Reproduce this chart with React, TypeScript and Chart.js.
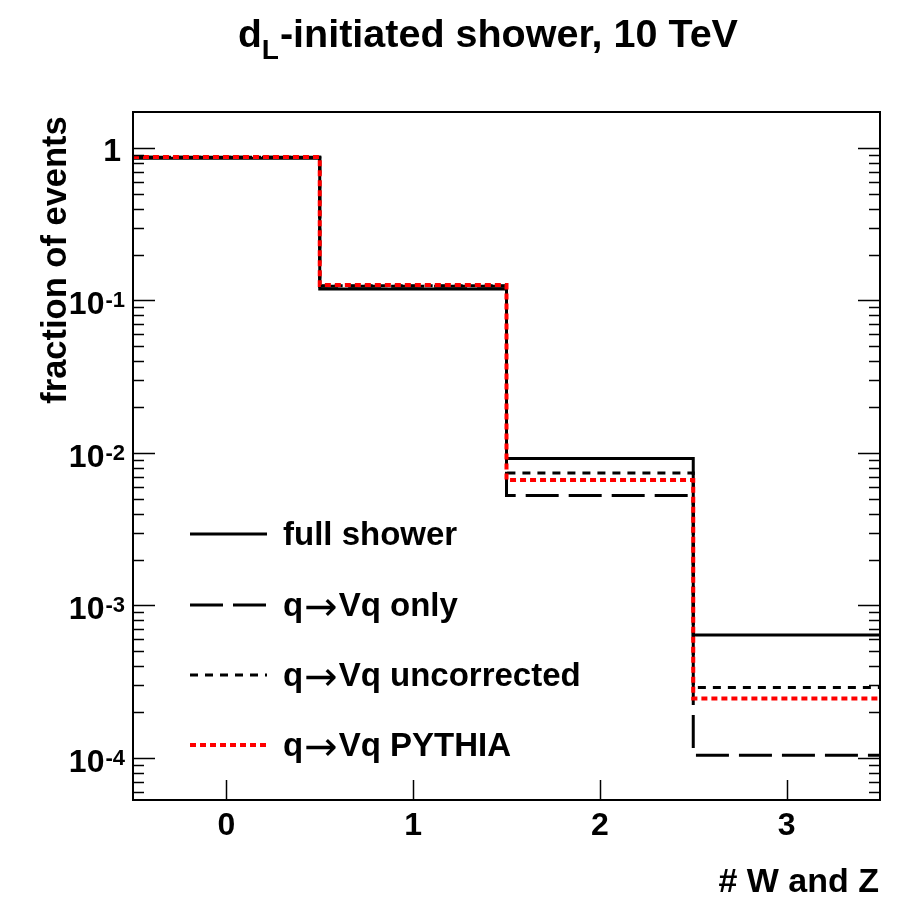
import React, { useEffect, useRef } from "react";
import { Chart, registerables } from "chart.js";

Chart.register(...registerables);

// Number of W and Z bosons per event (bin centres) and the bin edges of the histogram
const categories = [0, 1, 2, 3];
const binEdges = [-0.5, 0.5, 1.5, 2.5, 3.5];

// Fraction of events per bin, one array per shower variant
const fullShower = [0.856, 0.119, 0.0092, 0.00064];
const vqOnly = [0.868, 0.124, 0.00525, 0.000104];
const vqUncorrected = [0.868, 0.125, 0.0074, 0.00029];
const vqPythia = [0.872, 0.126, 0.00665, 0.000245];

const seriesLabels = ["full shower", "q\u2192Vq only", "q\u2192Vq uncorrected", "q\u2192Vq PYTHIA"];

// Axis ranges
const xRange = [-0.5, 3.5];
const yRange = [5.3e-5, 1.72];
const yDecades = [0, -1, -2, -3, -4];

const FONT = '"Liberation Sans", Arial, Helvetica, sans-serif';
const SYMBOL_FONT = '"DejaVu Sans", sans-serif';
const ARROW = "\u2192";

// Turn per-bin values into step points (left edge of each bin + closing right edge)
function toSteps(values: number[]) {
  const pts = values.map((v, i) => ({ x: binEdges[i], y: v }));
  pts.push({ x: binEdges[binEdges.length - 1], y: values[values.length - 1] });
  return pts;
}

const styles = [
  { color: "#000000", width: 3, dash: [] as number[] },
  { color: "#000000", width: 3, dash: [33, 10] },
  { color: "#000000", width: 3, dash: [8, 7] },
  { color: "#ff0000", width: 4, dash: [6, 4] },
];

// Draw a legend label, switching to a symbol font for the arrow glyph
function drawLabel(ctx: CanvasRenderingContext2D, text: string, x: number, baseline: number) {
  const parts = text.split(ARROW);
  let cx = x;
  parts.forEach((part, i) => {
    if (i > 0) {
      ctx.font = `40px ${SYMBOL_FONT}`;
      ctx.fillText(ARROW, cx + 1, baseline + 4);
      cx += ctx.measureText(ARROW).width + 2;
    }
    ctx.font = `bold 33px ${FONT}`;
    ctx.fillText(part, cx, baseline);
    cx += ctx.measureText(part).width;
  });
}

const rootStylePlugin = {
  id: "rootStyle",
  afterDatasetsDraw(chart: any) {
    const ctx: CanvasRenderingContext2D = chart.ctx;
    const area = chart.chartArea;
    const xs = chart.scales.x;
    const ys = chart.scales.y;
    ctx.save();

    // frame
    ctx.strokeStyle = "#000";
    ctx.lineWidth = 2;
    ctx.setLineDash([]);
    ctx.strokeRect(area.left, area.top, area.right - area.left, area.bottom - area.top);

    // y ticks (major at decades, minor at 2..9), on both sides
    ctx.lineWidth = 1.5;
    for (let k = -5; k <= 0; k++) {
      for (let m = 1; m <= 9; m++) {
        const v = m * Math.pow(10, k);
        if (v < yRange[0] || v > yRange[1]) continue;
        const y = Math.round(ys.getPixelForValue(v)) + 0.5;
        const len = m === 1 ? 22 : 11;
        ctx.beginPath();
        ctx.moveTo(area.left, y);
        ctx.lineTo(area.left + len, y);
        ctx.moveTo(area.right, y);
        ctx.lineTo(area.right - len, y);
        ctx.stroke();
      }
    }

    // x ticks
    categories.forEach((c) => {
      const x = Math.round(xs.getPixelForValue(c)) + 0.5;
      ctx.beginPath();
      ctx.moveTo(x, area.bottom);
      ctx.lineTo(x, area.bottom - 20);
      ctx.stroke();
    });

    ctx.fillStyle = "#000";

    // x tick labels
    ctx.font = `bold 32px ${FONT}`;
    ctx.textAlign = "center";
    ctx.textBaseline = "alphabetic";
    categories.forEach((c) => {
      ctx.fillText(String(c), xs.getPixelForValue(c), area.bottom + 35);
    });

    // y tick labels: 1, 10^-1, ...
    yDecades.forEach((k) => {
      const y = ys.getPixelForValue(Math.pow(10, k));
      if (k === 0) {
        ctx.font = `bold 32px ${FONT}`;
        ctx.textAlign = "right";
        ctx.fillText("1", area.left - 12, y + 13);
      } else {
        const sup = String(k);
        ctx.font = `bold 22px ${FONT}`;
        const supW = ctx.measureText(sup).width;
        const supX = area.left - 8 - supW;
        ctx.textAlign = "left";
        ctx.fillText(sup, supX, y + 7);
        ctx.font = `bold 32px ${FONT}`;
        ctx.textAlign = "right";
        ctx.fillText("10", supX - 1, y + 14);
      }
    });

    // axis titles
    ctx.font = `bold 34px ${FONT}`;
    ctx.textAlign = "right";
    ctx.fillText("# W and Z", area.right - 1, area.bottom + 92);

    ctx.save();
    ctx.translate(66, 260);
    ctx.rotate(-Math.PI / 2);
    ctx.font = `bold 34.5px ${FONT}`;
    ctx.textAlign = "center";
    ctx.fillText("fraction of events", 0, 0);
    ctx.restore();

    // title with subscript
    ctx.textAlign = "left";
    let tx = 238;
    const tb = 47;
    ctx.font = `bold 39px ${FONT}`;
    ctx.fillText("d", tx, tb);
    tx += ctx.measureText("d").width;
    ctx.font = `bold 28px ${FONT}`;
    ctx.fillText("L", tx, tb + 12);
    tx += ctx.measureText("L").width + 1;
    ctx.font = `bold 39.5px ${FONT}`;
    ctx.fillText("-initiated shower, 10 TeV", tx, tb);

    // legend
    const rows = [534, 605, 675, 745];
    rows.forEach((ry, i) => {
      const s = styles[i];
      ctx.strokeStyle = s.color;
      ctx.lineWidth = s.width;
      ctx.setLineDash(s.dash);
      ctx.beginPath();
      ctx.moveTo(190, ry);
      ctx.lineTo(267, ry);
      ctx.stroke();
      ctx.setLineDash([]);
      ctx.fillStyle = "#000";
      ctx.textAlign = "left";
      drawLabel(ctx, seriesLabels[i], 283, ry + 11);
    });

    ctx.restore();
  },
};

export default function App() {
  const ref = useRef<HTMLCanvasElement | null>(null);

  useEffect(() => {
    if (!ref.current) return;
    const all = [fullShower, vqOnly, vqUncorrected, vqPythia];
    const chart = new Chart(ref.current, {
      type: "line",
      data: {
        datasets: all.map((vals, i) => ({
          label: seriesLabels[i],
          data: toSteps(vals),
          stepped: true,
          borderColor: styles[i].color,
          borderWidth: styles[i].width,
          borderDash: styles[i].dash,
          borderCapStyle: "butt" as const,
          borderJoinStyle: "miter" as const,
          pointRadius: 0,
          fill: false,
          tension: 0,
          order: 3 - i,
        })),
      },
      options: {
        responsive: false,
        devicePixelRatio: 1,
        animation: false,
        events: [],
        layout: { padding: { left: 133, top: 112, right: 39, bottom: 97 } },
        plugins: {
          legend: { display: false },
          title: { display: false },
          tooltip: { enabled: false },
        },
        scales: {
          x: { type: "linear", min: xRange[0], max: xRange[1], display: false },
          y: { type: "logarithmic", min: yRange[0], max: yRange[1], display: false },
        },
      },
      plugins: [rootStylePlugin],
    });
    return () => chart.destroy();
  }, []);

  return (
    <div style={{ position: "absolute", left: 0, top: 0, width: 919, height: 897, background: "#fff" }}>
      <canvas ref={ref} width={919} height={897} />
    </div>
  );
}
